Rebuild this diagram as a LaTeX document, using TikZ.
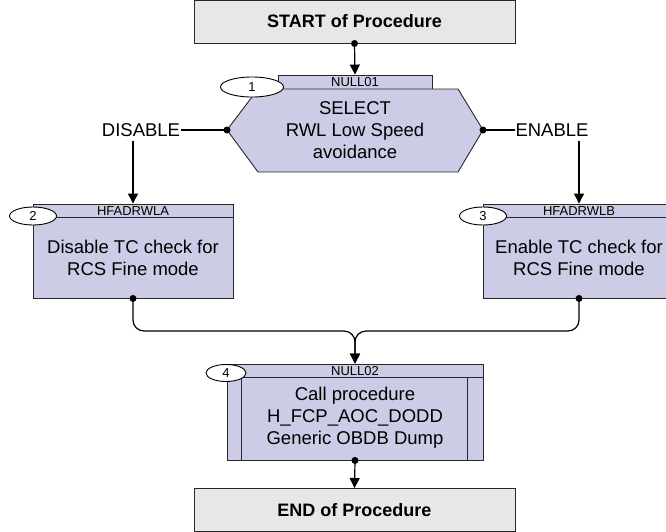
\documentclass[tikz,border=0pt]{standalone}
\usepackage{fontspec}
\setmainfont{Liberation Sans}
\usetikzlibrary{shapes.geometric,arrows.meta,calc}
\definecolor{stepfill}{RGB}{204,204,230}
\definecolor{termfill}{RGB}{231,231,231}
\definecolor{edge}{RGB}{40,40,40}
\begin{document}
\begin{tikzpicture}[x=1pt,y=-1pt,
  every node/.style={inner sep=0pt, align=center, font=\fontsize{18.5}{22}\selectfont},
  term/.style={draw=edge, fill=termfill, line width=1pt, minimum width=321pt, minimum height=43pt, font=\fontsize{18}{22}\selectfont\bfseries},
  stepbox/.style={draw=edge, fill=stepfill, line width=0.9pt},
  tag/.style={font=\fontsize{13}{13}\selectfont},
  num/.style={draw=black, fill=white, ellipse, line width=0.9pt, font=\fontsize{13}{13}\selectfont},
  branch/.style={inner xsep=0.5pt, inner ysep=4pt},
  link/.style={line width=1.2pt},
  flow/.style={line width=1.2pt, -{Triangle[length=10pt,width=10pt]}},
  rounded/.style={rounded corners=11pt},
]
\useasboundingbox (0,0) rectangle (666,531);

% start terminal
\node[term] (start) at (354.5,21.5) {START of Procedure};

% step 1: selection
\node[stepbox, minimum width=154pt, minimum height=14pt] (tab1) at (355,82) {};
\node[tag] at (tab1) {NULL01};
\coordinate (hexL) at (227,130);
\coordinate (hexR) at (483,130);
\filldraw[stepbox] (258,89) -- (458,89) -- (hexR) -- (458,172) -- (258,172) -- (hexL) -- cycle;
\node (sel) at (355,130) {SELECT\\RWL Low Speed\\avoidance};
\node[num, minimum width=63pt, minimum height=20pt] (n1) at (252,87) {1};

% branch labels
\node[branch] (dis) at (141,130) {DISABLE};
\node[branch] (en) at (552,130) {ENABLE};

% step 2
\node[stepbox, minimum width=200pt, minimum height=94pt] (b2) at (133,251) {};
\draw[stepbox] ($(b2.north west)+(0,14)$) -- ($(b2.north east)+(0,14)$);
\node[tag] at (133,211) {HFADRWLA};
\node at (133,258) {Disable TC check for\\RCS Fine mode};
\node[num, minimum width=47pt, minimum height=18pt] (n2) at (33,216) {2};

% step 3
\node[stepbox, minimum width=192pt, minimum height=94pt] (b3) at (579,251) {};
\draw[stepbox] ($(b3.north west)+(0,14)$) -- ($(b3.north east)+(0,14)$);
\node[tag] at (579,211) {HFADRWLB};
\node at (579,258) {Enable TC check for\\RCS Fine mode};
\node[num, minimum width=47pt, minimum height=18pt] (n3) at (483,216) {3};

% step 4: procedure call
\node[stepbox, minimum width=256pt, minimum height=96pt] (b4) at (355,412) {};
\draw[stepbox] ($(b4.north west)+(0,14)$) -- ($(b4.north east)+(0,14)$);
\draw[stepbox] ($(b4.north west)+(15,14)$) -- ($(b4.south west)+(15,0)$);
\draw[stepbox] ($(b4.north east)+(-16,14)$) -- ($(b4.south east)+(-16,0)$);
\node[tag] at (355,371) {NULL02};
\node at (355,418) {Call procedure\\H\_FCP\_AOC\_DODD\\Generic OBDB Dump};
\node[num, minimum width=40pt, minimum height=17pt] (n4) at (226,373) {4};

% end terminal
\node[term] (end) at (354.5,510) {END of Procedure};

% connectors
\coordinate (merge) at (355,331);
\draw[flow] (start.south) -- (tab1.north);
\fill (start.south) circle (3.5pt);
\draw[link] (dis.east) -- (hexL);
\fill (hexL) circle (3.5pt);
\draw[link] (hexR) -- (en.west);
\fill (hexR) circle (3.5pt);
\draw[flow] (dis.south -| b2.north) -- (b2.north);
\draw[flow] (en.south -| b3.north) -- (b3.north);
\draw[flow, rounded] (b2.south) -- (b2.south |- merge) -- (merge) -- (b4.north);
\draw[flow, rounded] (b3.south) -- (b3.south |- merge) -- (merge) -- (b4.north);
\fill (b2.south) circle (3.5pt);
\fill (b3.south) circle (3.5pt);
\draw[flow] (b4.south) -- (end.north);
\fill (b4.south) circle (3.5pt);
\end{tikzpicture}
\end{document}
